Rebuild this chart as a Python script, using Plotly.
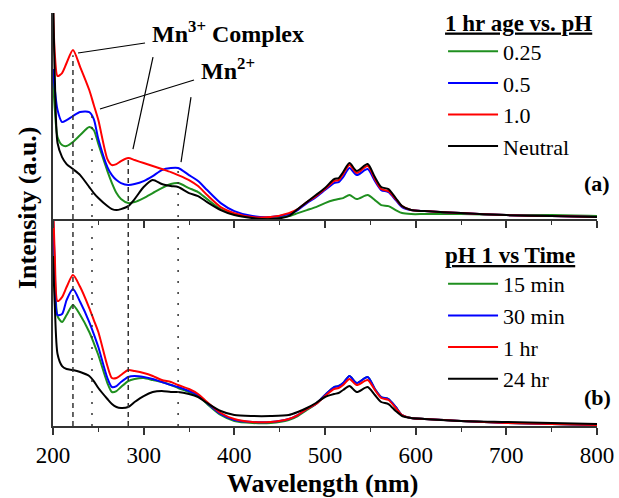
import plotly.graph_objects as go

# ---------------- data ----------------
wl = [200, 202, 205, 210, 215, 222, 230, 240, 245, 250, 260, 265, 270, 275, 283, 290,
      300, 310, 320, 330, 338, 350, 360, 370, 385, 400, 420, 440, 460, 470, 480, 490,
      500, 510, 515, 520, 527, 535, 547, 555, 562, 570, 578, 585, 595, 610, 650, 700,
      750, 800]

# panel (a): 1 hr age vs pH
a_025 = [140, 110, 82, 74, 73, 77, 84, 92, 89, 75, 48, 36, 26, 20, 16, 17,
         21, 26, 31, 35, 36, 31, 27, 20, 10, 5, 2, 1, 3, 6, 9, 12,
         16, 19, 20, 21, 24, 20, 24, 19, 14, 13, 9, 6, 5, 5, 5, 4, 4, 3]
a_05 = [150, 130, 109, 97, 99, 103, 107, 107, 100, 80, 52, 44, 39, 36, 34, 35,
        38, 43, 49, 51, 51, 44, 38, 29, 16, 8, 3, 2, 5, 9, 16, 22,
        29, 36, 37, 42, 51, 44, 50, 38, 29, 27, 19, 12, 9, 8, 6, 4, 3, 2]
a_10 = [215, 165, 143, 146, 156, 169, 152, 129, 114, 99, 60, 54, 55, 58, 61, 59,
        56, 53, 50, 47, 44, 39, 33, 24, 12, 6, 2, 2, 6, 10, 17, 23,
        30, 38, 39, 45, 54, 46, 53, 40, 30, 28, 20, 13, 9, 8, 6, 4, 3, 2]
a_neutral = [230, 142, 76, 62, 55, 50, 44, 32, 26, 21, 13, 10, 9, 10, 13, 20,
             32, 39, 35, 33, 32, 26, 23, 17, 9, 4, 1, 0, 3, 10, 17, 24,
             31, 40, 41, 47, 56, 48, 55, 42, 32, 30, 21, 13, 9, 8, 6, 4, 3, 2]

# panel (b): pH 1 vs time
b_15 = [190, 150, 110, 104, 111, 121, 111, 94, 83, 71, 43, 34, 35, 39, 45, 47,
        48, 46, 44, 41, 38, 34, 30, 22, 11, 5, 3, 3, 6, 10, 16, 22,
        31, 39, 40, 43, 50, 43, 49, 37, 29, 27, 19, 11, 8, 7, 5, 3, 2, 1]
b_30 = [210, 160, 111, 112, 126, 137, 124, 104, 92, 79, 48, 39, 40, 44, 49, 50,
        49, 47, 44, 41, 39, 35, 31, 23, 12, 6, 4, 4, 7, 11, 17, 22,
        31, 39, 40, 43, 50, 43, 49, 37, 29, 27, 19, 11, 8, 7, 5, 3, 2, 1]
b_1h = [230, 170, 125, 129, 139, 151, 139, 118, 106, 94, 60, 48, 48, 51, 56, 55,
        53, 50, 46, 44, 41, 37, 32, 24, 13, 7, 4, 4, 7, 11, 17, 22,
        30, 37, 38, 41, 47, 41, 46, 36, 28, 26, 18, 11, 8, 7, 5, 3, 2, 1]
b_24h = [170, 120, 72, 60, 57, 56, 54, 50, 45, 38, 27, 22, 19, 18, 19, 24,
         30, 34, 35, 34, 34, 32, 29, 23, 15, 11, 10, 10, 11, 14, 18, 23,
         29, 32, 33, 36, 40, 34, 39, 31, 24, 22, 15, 10, 8, 7, 5, 4, 3, 2]

names_a = ["0.25", "0.5", "1.0", "Neutral"]
names_b = ["15 min", "30 min", "1 hr", "24 hr"]
colors = ["#1f8f1f", "#0000ff", "#ff0000", "#000000"]

# reference lines (nm) and annotation leader lines (nm, intensity in panel a)
mn3_lines = [222, 283]
mn2_lines = [243, 338]
vline_tops = {222: 0.898, 243: 0.758, 283: 0.644, 338: 0.625}
leaders = [((301.5, 176), (227.6, 166)), ((310.3, 162), (288.2, 70)),
           ((355.5, 139), (251.8, 110)), ((352.2, 122), (341.2, 57))]

SERIF = "Liberation Serif"
AXC = "#333333"

fig = go.Figure()
for nm, c, v in zip(names_a, colors, [a_025, a_05, a_10, a_neutral]):
    fig.add_trace(go.Scatter(x=wl, y=v, xaxis="x2", yaxis="y2", mode="lines", name=nm,
                             line=dict(color=c, width=2, shape="spline", smoothing=0.7),
                             legend="legend"))
for nm, c, v in zip(names_b, colors, [b_15, b_30, b_1h, b_24h]):
    fig.add_trace(go.Scatter(x=wl, y=v, xaxis="x", yaxis="y", mode="lines", name=nm,
                             line=dict(color=c, width=2, shape="spline", smoothing=0.7),
                             legend="legend2"))

shapes = []
for x in mn3_lines + mn2_lines:
    shapes.append(dict(type="line", xref="x", yref="paper", x0=x, x1=x, y0=0, y1=vline_tops[x],
                       line=dict(color="#333333", width=1.5,
                                 dash="5px,4px" if x in mn3_lines else "2px,9px")))
for (p0, p1) in leaders:
    shapes.append(dict(type="line", xref="x2", yref="y2", x0=p0[0], y0=p0[1], x1=p1[0], y1=p1[1],
                       line=dict(color="black", width=1.2)))

axis_common = dict(range=[200, 800], showline=True, linecolor=AXC, linewidth=2,
                   ticks="outside", ticklen=7, tickwidth=1.5, tickcolor=AXC,
                   tick0=200, dtick=100, showgrid=False, zeroline=False,
                   minor=dict(ticks="outside", ticklen=4, tickwidth=1.2, tickcolor=AXC, dtick=50),
                   tickfont=dict(family=SERIF, size=23, color="black"))
yaxis_common = dict(showline=True, linecolor=AXC, linewidth=2, ticks="", showticklabels=False,
                    showgrid=False, zeroline=False)

legend_common = dict(xanchor="left", yanchor="top", bgcolor="rgba(0,0,0,0)",
                     itemwidth=50, tracegroupgap=0,
                     font=dict(family=SERIF, size=22, color="black"))

def ann(text, x, y, size=24, bold=True, **kw):
    f = dict(family=SERIF, size=size, color="black")
    if bold:
        f["weight"] = "bold"
    return dict(text=text, xref="paper", yref="paper", x=x, y=y, xanchor="center",
                yanchor="middle", showarrow=False, font=f, **kw)

fig.update_layout(
    width=619, height=498,
    margin=dict(l=53, r=22, t=13, b=72, autoexpand=False),
    paper_bgcolor="white", plot_bgcolor="white",
    showlegend=True,
    font=dict(family=SERIF, color="black"),
    xaxis=dict(axis_common, anchor="y"),
    xaxis2=dict(axis_common, anchor="y2", matches="x", showticklabels=False),
    yaxis=dict(yaxis_common, domain=[0, 0.501], range=[0, 207]),
    yaxis2=dict(yaxis_common, domain=[0.501, 1], range=[0, 206]),
    legend=dict(legend_common, x=0.717, y=1.03,
                title=dict(text="1 hr age vs. pH", side="top",
                           font=dict(family=SERIF, size=23, color="black", weight="bold",
                                     lineposition="under"))),
    legend2=dict(legend_common, x=0.717, y=0.467,
                 title=dict(text="pH 1 vs Time", side="top",
                            font=dict(family=SERIF, size=23, color="black", weight="bold",
                                      lineposition="under"))),
    shapes=shapes,
    annotations=[
        ann("Mn<sup>3+</sup> Complex", 0.322, 0.955),
        ann("Mn<sup>2+</sup>", 0.322, 0.865),
        ann("(a)", 1.0, 0.588, size=22),
        ann("(b)", 1.0, 0.068, size=22),
        ann("Intensity (a.u.)", -0.048, 0.53, size=26, textangle=-90),
        ann("Wavelength (nm)", 0.496, -0.140, size=26),
    ],
)

fig.write_html("out.html")
